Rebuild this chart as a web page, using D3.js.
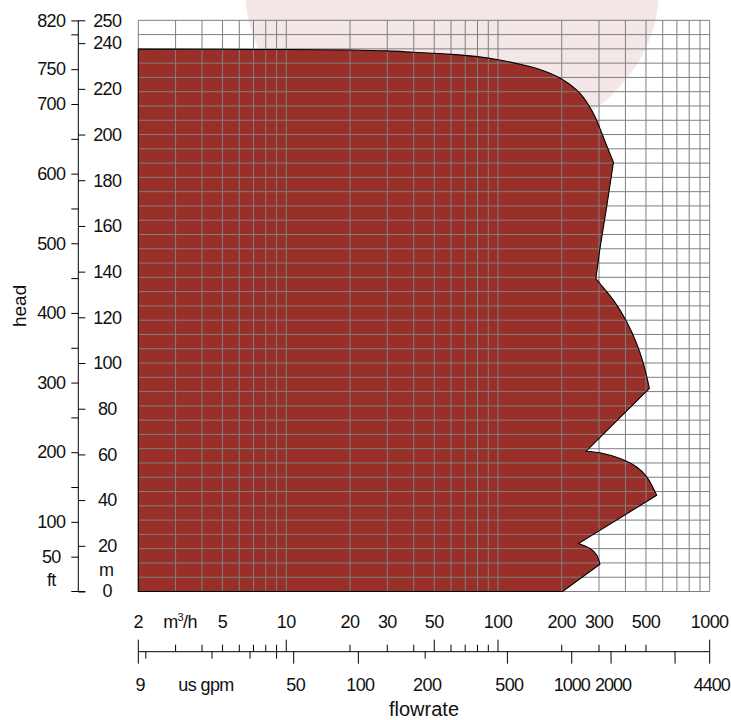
<!DOCTYPE html>
<html>
<head>
<meta charset="utf-8">
<script src="https://cdn.jsdelivr.net/npm/d3@7"></script>
<style>
  html, body { margin: 0; padding: 0; background: #fff; }
  svg { display: block; font-family: "Liberation Sans", Arial, sans-serif; }
  .axis path, .axis line { stroke: #000; }
  .lbl { letter-spacing: -0.6px; }
</style>
</head>
<body>
<svg id="chart" width="731" height="720"></svg>
<script>
// ---------- data ----------
// envelope of the pump range (flow m3/h, head m)
const envelopeFlow = [2, 10, 20, 30, 40, 60, 80, 102, 132, 164, 197, 244, 282, 303, 314, 351,
  326, 303, 290, 303, 351, 406, 452, 486, 519,
  261, 303, 377, 452, 504, 562,
  240, 272, 293, 303, 202];
const envelopeHead = [237.4, 237.2, 237.0, 236.6, 236.0, 235.1, 234.1, 232.6, 230.4, 227.9, 224.6, 218, 209.3, 202.7, 199, 187.8,
  168.3, 150.1, 137, 134.8, 127.5, 118, 108.5, 99.8, 88.9,
  61.4, 60.7, 58.2, 54.5, 50.2, 42.1,
  21, 18.8, 15.9, 11.9, 0];
// index ranges of the envelope that are smooth curves (the rest are straight)
const smoothRanges = [[0, 15], [18, 24], [25, 30], [31, 34]];

const flowGrid = [2,3,4,5,6,7,8,9,10,20,30,40,50,60,70,80,90,100,200,300,400,500,600,700,800,900,1000];
const flowTicks = [2,3,4,5,6,7,8,9,10,20,30,40,50,60,70,80,90,100,200,300,400,500,1000];
const flowLongTicks = [2,10,50,100,1000];
const flowLabels = [2,5,10,20,30,50,100,200,300,500,1000];

// us gpm ticks: nominal gpm and the m3/h position they sit at in the picture
const gpmValues = [9, 10, 20, 30, 40, 50, 100, 200, 500, 1000, 2000, 3000, 4400];
const gpmFlowPos = [2, 2.17, 4.46, 6.74, 9.0, 10.84, 21.9, 45.3, 110.8, 223, 342, 686, 1000];
const gpmLabels = ["9", "", "", "", "", "50", "100", "200", "500", "1000", "2000", "", "4400"];
const gpmLong = [true, false, false, false, false, true, true, false, true, true, true, true, true];

const headMax = 250;                 // m
const ftPerM = 3.2808;
const mTicks = [0,20,40,60,80,100,120,140,160,180,200,220,240,250];
const mLabels = [20,40,60,80,100,120,140,160,180,200,220,240,250];
const ftTicks = [50,100,150,200,250,300,350,400,450,500,550,600,650,700,750,800,820];
const ftLabels = [50,100,200,300,400,500,600,700,750,820];
const gridHeadStep = 6.25;

// ---------- layout ----------
const svg = d3.select("#chart");
const plotL = 138.3, plotR = 709.7, plotT = 20.3, plotB = 591.5;
const axisX = 78.3;
const flowAxisY = 651.7;

const x = d3.scaleLog().domain([2, 1000]).range([plotL, plotR]);
const y = d3.scaleLinear().domain([0, headMax]).range([plotB, plotT]);
const yFt = d3.scaleLinear().domain([0, headMax * ftPerM]).range([plotB, plotT]);

// watermark (decorative)
svg.append("ellipse")
  .attr("cx", 452).attr("cy", -10).attr("rx", 207).attr("ry", 165)
  .attr("fill", "#f4e7e8");

// envelope path built from smooth and straight pieces
const pts = envelopeFlow.map((q, i) => [q, envelopeHead[i]]);
const smoothLine = d3.line().x(d => x(d[0])).y(d => y(d[1])).curve(d3.curveCatmullRom.alpha(0.5));
const straightLine = d3.line().x(d => x(d[0])).y(d => y(d[1]));
let pieces = [];
let cursor = 0;
smoothRanges.forEach(([a, b]) => {
  if (a > cursor) pieces.push(straightLine(pts.slice(cursor, a + 1)));
  pieces.push(smoothLine(pts.slice(a, b + 1)));
  cursor = b;
});
pieces.push(straightLine(pts.slice(cursor).concat([[2, 0]])));
const envD = pieces.map((p, i) => i === 0 ? p : "L" + p.slice(1)).join("") + "Z";

svg.append("path")
  .attr("d", envD)
  .attr("fill", "#992f29")
  .attr("stroke", "none");

// grid
const grid = svg.append("g").attr("stroke", "#7f7f7f").attr("stroke-width", 1);
grid.selectAll("line.v").data(flowGrid).join("line")
  .attr("class", "v")
  .attr("x1", d => x(d)).attr("x2", d => x(d))
  .attr("y1", plotT).attr("y2", plotB);
grid.selectAll("line.h").data(d3.range(0, headMax + 0.01, gridHeadStep)).join("line")
  .attr("class", "h")
  .attr("x1", plotL).attr("x2", plotR)
  .attr("y1", d => y(d)).attr("y2", d => y(d));

// envelope outline
svg.append("path")
  .attr("d", envD)
  .attr("fill", "none")
  .attr("stroke", "#000")
  .attr("stroke-width", 1.1)
  .attr("stroke-linejoin", "miter");

// ---------- head axes ----------
const fs = 18;
const ftAxis = d3.axisLeft(yFt).tickValues(ftTicks).tickSize(7)
  .tickFormat(d => ftLabels.includes(d) ? d : "");
const gFt = svg.append("g").attr("class", "axis")
  .attr("transform", `translate(${axisX},0)`).call(ftAxis);
gFt.select(".domain").remove();
gFt.selectAll("text").attr("x", -27).attr("text-anchor", "middle").attr("class", "lbl")
  .attr("font-size", fs).attr("font-family", "Liberation Sans, Arial").attr("fill", "#111");

const mAxis = d3.axisRight(y).tickValues(mTicks).tickSize(7)
  .tickFormat(d => mLabels.includes(d) ? d : "");
const gM = svg.append("g").attr("class", "axis")
  .attr("transform", `translate(${axisX},0)`).call(mAxis);
gM.select(".domain").remove();
gM.selectAll("text").attr("x", 29).attr("text-anchor", "middle").attr("class", "lbl")
  .attr("font-size", fs).attr("font-family", "Liberation Sans, Arial").attr("fill", "#111");

svg.append("line").attr("x1", axisX).attr("x2", axisX)
  .attr("y1", plotT).attr("y2", plotB).attr("stroke", "#000");
svg.append("line").attr("x1", axisX - 7).attr("x2", axisX + 7)
  .attr("y1", y(0)).attr("y2", y(0)).attr("stroke", "#000");

const unitStyle = s => s.attr("font-size", fs).attr("text-anchor", "middle").attr("fill", "#111").attr("class", "lbl");
svg.append("text").attr("x", axisX + 29).attr("y", y(0)).attr("dy", "0.32em").text("0").call(unitStyle);
svg.append("text").attr("x", axisX + 28).attr("y", 570).attr("dy", "0.32em").text("m").call(unitStyle);
svg.append("text").attr("x", axisX - 27).attr("y", 580).attr("dy", "0.32em").text("ft").call(unitStyle);

svg.append("text")
  .attr("transform", `translate(26,${(plotT + plotB) / 2}) rotate(-90)`)
  .attr("text-anchor", "middle").attr("font-size", 19).attr("fill", "#111")
  .text("head");

// ---------- flow axis ----------
const gF = svg.append("g");
gF.append("line").attr("x1", x(2)).attr("x2", x(1000))
  .attr("y1", flowAxisY).attr("y2", flowAxisY).attr("stroke", "#000");
gF.selectAll("line.up").data(flowTicks).join("line")
  .attr("class", "up").attr("stroke", "#000")
  .attr("x1", d => x(d)).attr("x2", d => x(d))
  .attr("y1", flowAxisY).attr("y2", d => flowAxisY - (flowLongTicks.includes(d) ? 12 : 7));
gF.selectAll("text.fl").data(flowLabels).join("text")
  .attr("class", "fl lbl")
  .attr("x", d => x(d)).attr("y", 622).attr("dy", "0.35em")
  .attr("text-anchor", "middle").attr("font-size", fs).attr("fill", "#111")
  .text(d => d);
const unitT = gF.append("text").attr("x", 180).attr("y", 622).attr("dy", "0.35em")
  .attr("class", "lbl")
  .attr("text-anchor", "middle").attr("font-size", fs).attr("fill", "#111");
unitT.append("tspan").text("m");
unitT.append("tspan").attr("font-size", 11).attr("dy", -7).text("3");
unitT.append("tspan").attr("dy", 7).text("/h");

const gpm = gpmValues.map((v, i) => ({ v, q: gpmFlowPos[i], label: gpmLabels[i], long: gpmLong[i] }));
gF.selectAll("line.down").data(gpm).join("line")
  .attr("class", "down").attr("stroke", "#000")
  .attr("x1", d => x(d.q)).attr("x2", d => x(d.q))
  .attr("y1", flowAxisY).attr("y2", d => flowAxisY + (d.long ? 12 : 7));
gF.selectAll("text.gl").data(gpm.filter(d => d.label)).join("text")
  .attr("class", "gl lbl")
  .attr("x", d => x(d.q) + (d.v === 1000 ? 0 : 2)).attr("y", 685).attr("dy", "0.35em")
  .attr("text-anchor", "middle").attr("font-size", fs).attr("fill", "#111")
  .style("letter-spacing", d => d.label.length === 4 ? "-1px" : null)
  .text(d => d.label);
gF.append("text").attr("x", 206).attr("y", 685).attr("dy", "0.35em")
  .attr("class", "lbl")
  .attr("text-anchor", "middle").attr("font-size", fs).attr("fill", "#111").text("us gpm");

svg.append("text").attr("x", 424).attr("y", 716)
  .attr("text-anchor", "middle").attr("font-size", 20).attr("fill", "#111")
  .text("flowrate");
</script>
</body>
</html>
